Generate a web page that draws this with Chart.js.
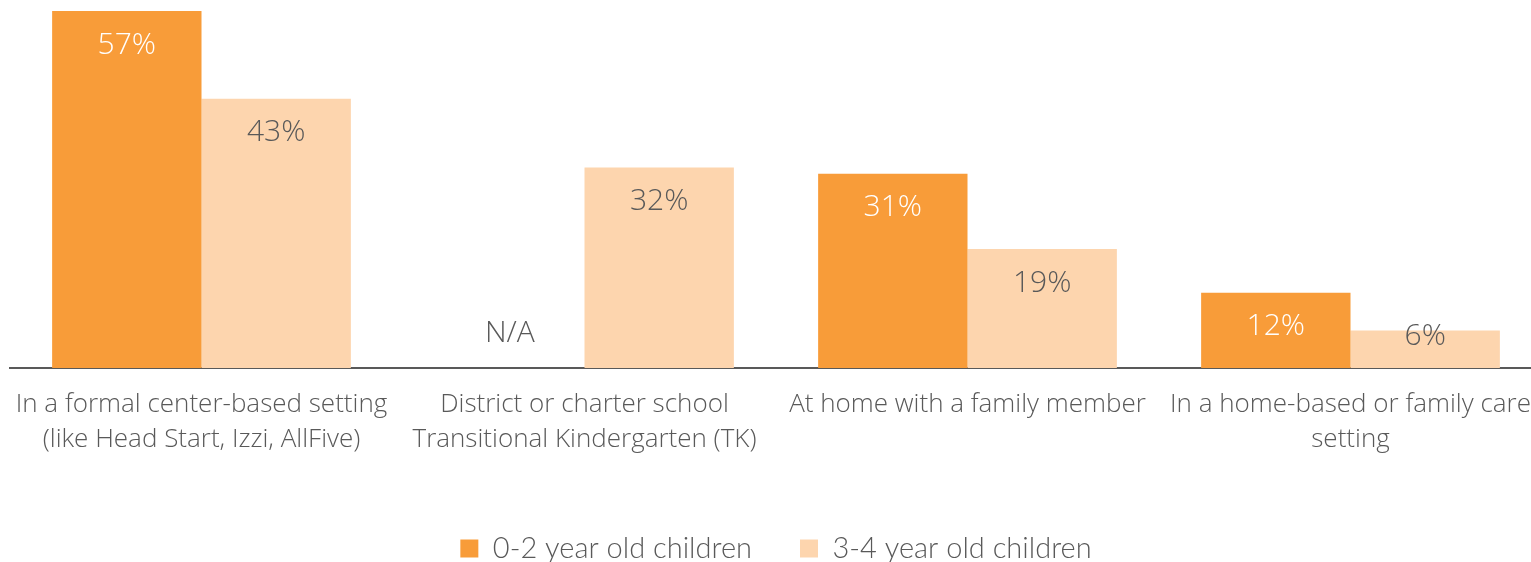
<!DOCTYPE html>
<html>
<head>
<meta charset="utf-8">
<script src="https://cdn.jsdelivr.net/npm/chart.js@4"></script>
<style>
  html, body { margin: 0; padding: 0; background: #fff; overflow: hidden; }
  #wrap { width: 1542px; height: 562px; }
</style>
</head>
<body>
<div id="wrap"><canvas id="chart"></canvas></div>
<script>
const categories = [
  ['In a formal center-based setting', '(like Head Start, Izzi, AllFive)'],
  ['District or charter school', 'Transitional Kindergarten (TK)'],
  ['At home with a family member'],
  ['In a home-based or family care', 'setting']
];
const seriesNames = ['0-2 year old children', '3-4 year old children'];
const young = [57, null, 31, 12];
const older = [43, 32, 19, 6];

const orange = '#F89C39';
const peach = '#FDD5AE';
const grey = '#595959';

const valueLabels = {
  id: 'valueLabels',
  afterDatasetsDraw(chart) {
    const ctx = chart.ctx;
    const base = chart.scales.y.getPixelForValue(0);
    ctx.save();
    ctx.font = '300 30px "Open Sans"';
    ctx.textAlign = 'center';
    ctx.textBaseline = 'middle';
    chart.data.datasets.forEach((ds, i) => {
      chart.getDatasetMeta(i).data.forEach((bar, j) => {
        const v = ds.data[j];
        if (v === null) {
          ctx.fillStyle = grey;
          ctx.fillText('N/A', bar.x, base - 35);
          return;
        }
        ctx.fillStyle = i === 0 ? '#fff' : grey;
        ctx.fillText(v + '%', bar.x, Math.min(bar.y + 34, base - 32));
      });
    });
    ctx.restore();
  }
};

new Chart(document.getElementById('chart'), {
  type: 'bar',
  data: {
    labels: categories,
    datasets: [
      { label: seriesNames[0], data: young, backgroundColor: orange },
      { label: seriesNames[1], data: older, backgroundColor: peach }
    ]
  },
  options: {
    responsive: true,
    maintainAspectRatio: false,
    animation: false,
    layout: { padding: { left: 10, top: 11, right: 0, bottom: -11 } },
    datasets: { bar: { categoryPercentage: 0.78, barPercentage: 1 } },
    scales: {
      x: {
        grid: { display: false, drawTicks: false },
        border: { display: true, color: grey, width: 2 },
        ticks: {
          color: grey,
          font: { family: 'Open Sans', weight: 300, size: 26, lineHeight: 1.35 },
          padding: 19,
          maxRotation: 0,
          autoSkip: false
        },
        afterFit(scale) {
          // labels may spill past the plot edges, as in the original
          scale.height = 118;
          scale.paddingLeft = 0;
          scale.paddingRight = 0;
        }
      },
      y: { display: false, min: 0, max: 57 }
    },
    plugins: {
      legend: {
        position: 'bottom',
        labels: {
          color: grey,
          font: { family: 'Lato', weight: 300, size: 29 },
          boxWidth: 18,
          boxHeight: 18,
          padding: 48
        }
      },
      tooltip: { enabled: false }
    }
  },
  plugins: [valueLabels]
});
</script>
</body>
</html>
